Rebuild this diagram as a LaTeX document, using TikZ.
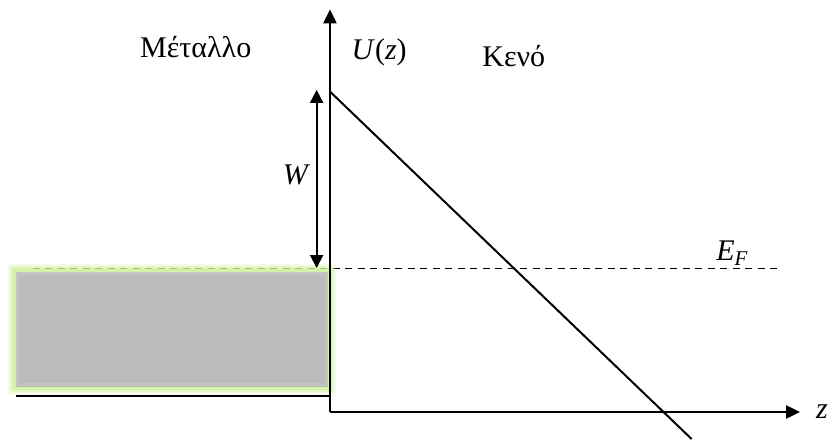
\documentclass[tikz,border=0pt]{standalone}
\usepackage{fontspec}
\setmainfont{Liberation Serif}
\usetikzlibrary{arrows.meta,positioning}
\definecolor{metalgray}{RGB}{187,187,187}
\definecolor{glowgreen}{RGB}{208,240,160}

\begin{document}
\begin{tikzpicture}[
    axis/.style={line width=2.2pt, -{Triangle[length=14pt,width=13pt]}},
    warr/.style={line width=2pt,
      {Triangle[length=13pt,width=13pt]}-{Triangle[length=13pt,width=13pt]}},
    pot/.style={line width=2pt},
    fermi/.style={line width=1.3pt, dash pattern=on 7pt off 5.5pt},
    lbl/.style={font=\fontsize{30}{34}\selectfont, inner sep=0pt},
  ]
  \useasboundingbox (-11.598,-0.949) rectangle (17.573,14.480);

  % Points
  \coordinate (O)     at (0,0);
  \coordinate (ytop)  at (0,14.15);
  \coordinate (xend)  at (16.52,0);
  \coordinate (utop)  at (0,11.26);
  \coordinate (uend)  at (12.71,-0.95);
  \coordinate (wtop)  at (-0.47,11.32);
  \coordinate (wbot)  at (-0.47,5.06);
  \coordinate (efl)   at (-10.44,5.05);
  \coordinate (efr)   at (15.82,5.05);
  \coordinate (basel) at (-11.04,0.57);
  \coordinate (baser) at (0,0.57);

  % Fermi level
  \draw[fermi] (efl) -- (efr);

  % Metal block with glow
  \foreach \g/\op in {0.28/0.25, 0.2/0.45, 0.12/0.8}
    \fill[glowgreen, opacity=\op, rounded corners=2pt]
      (-11.04-\g,0.89-\g) rectangle (-0.07+\g,4.93+\g);
  \fill[metalgray] (-11.04,0.89) rectangle (-0.07,4.93);
  \draw[white, opacity=0.12, line width=3pt]
    (-10.98,0.95) rectangle (-0.13,4.87);

  % Axes
  \draw[axis] (O) -- (ytop);
  \draw[axis] (O) -- (xend);
  \draw[pot] (basel) -- (baser);

  % Potential
  \draw[pot] (utop) -- (uend);
  \draw[warr] (wtop) -- (wbot);

  % Labels
  \node[lbl, anchor=base] (metal) at (-4.72,12.45) {Μέταλλο};
  \node[lbl, anchor=base] (vac)   at (6.46,12.15) {Κενό};
  \node[lbl, anchor=base] (uz)    at (1.73,12.40) {\textit{U}(\textit{z})};
  \node[lbl, anchor=base] (wlbl)  at (-1.18,7.98) {\textit{W}};
  \node[lbl, anchor=base west] (ef) at (13.57,5.34)
    {\textit{E}\textsubscript{\textit{F}}};
  \node[lbl, anchor=west] (zlbl)  at (17.08,0) {\textit{z}};
\end{tikzpicture}
\end{document}
